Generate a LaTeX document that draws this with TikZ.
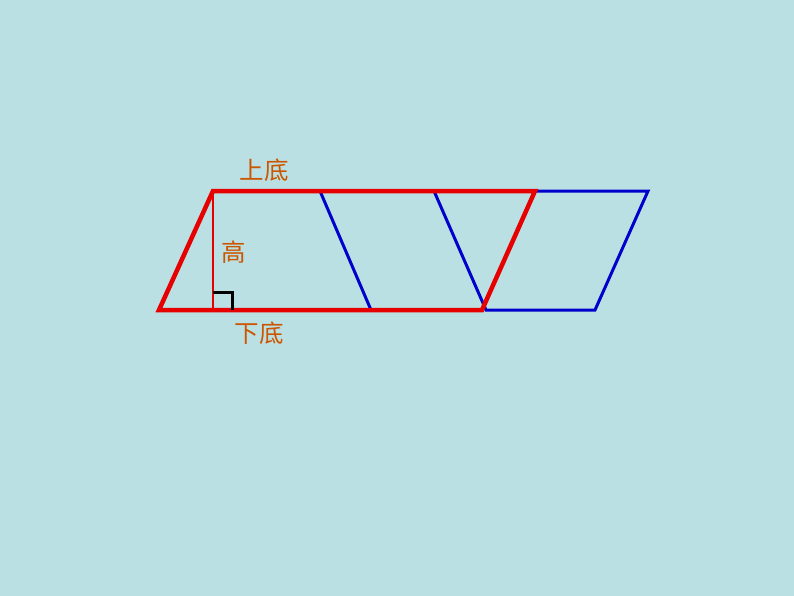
\documentclass[tikz,border=0pt]{standalone}
\usepackage{fontspec}
\newfontfamily\cjk{Noto Sans CJK SC}
\usetikzlibrary{calc}
\usepackage{xcolor}
\definecolor{bgcol}{RGB}{187,224,227}
\definecolor{labcol}{RGB}{204,85,0}
\definecolor{redcol}{RGB}{230,0,0}
\definecolor{bluecol}{RGB}{0,0,204}

\begin{document}
\begin{tikzpicture} [x=1pt,y=-1pt]
\fill[bgcol] (0,0) rectangle (794,596);
\useasboundingbox (0,0) rectangle (794,596);
\tikzset{lab/.style={text=labcol, font=\cjk\fontsize{24.5}{26}\selectfont, inner sep=0}}
\coordinate (A) at (159,310);
\coordinate (B) at (213,191);
\coordinate (C) at (535,191);
\coordinate (D) at (482,310);
\coordinate (H) at (213,310);
\coordinate (P) at (320,191);
\coordinate (Q) at (371,310);
\coordinate (R) at (434,191);
\coordinate (S) at (486,310);
\coordinate (T) at (595,310);
\coordinate (U) at (648,191);
% blue pieces
\draw[bluecol, line width=3] (P)--(Q);
\draw[bluecol, line width=3, line join=miter] (R)--(S)--(T)--(U)--(C);
% red trapezoid and height
\draw[redcol, line width=4.5, line join=miter] (A)--(B)--(C)--(D)--cycle;
\draw[redcol, line width=1.8] (B)--(H);
\draw[black, line width=3] ($(H)+(0,-18)$) --++(19,0) --++(0,18);
\node[lab] (top) at (264,170) {上底};
\node[lab] (hgt) at (234,252) {高};
\node[lab] (bot) at (259,333) {下底};
\end{tikzpicture}
\end{document}
